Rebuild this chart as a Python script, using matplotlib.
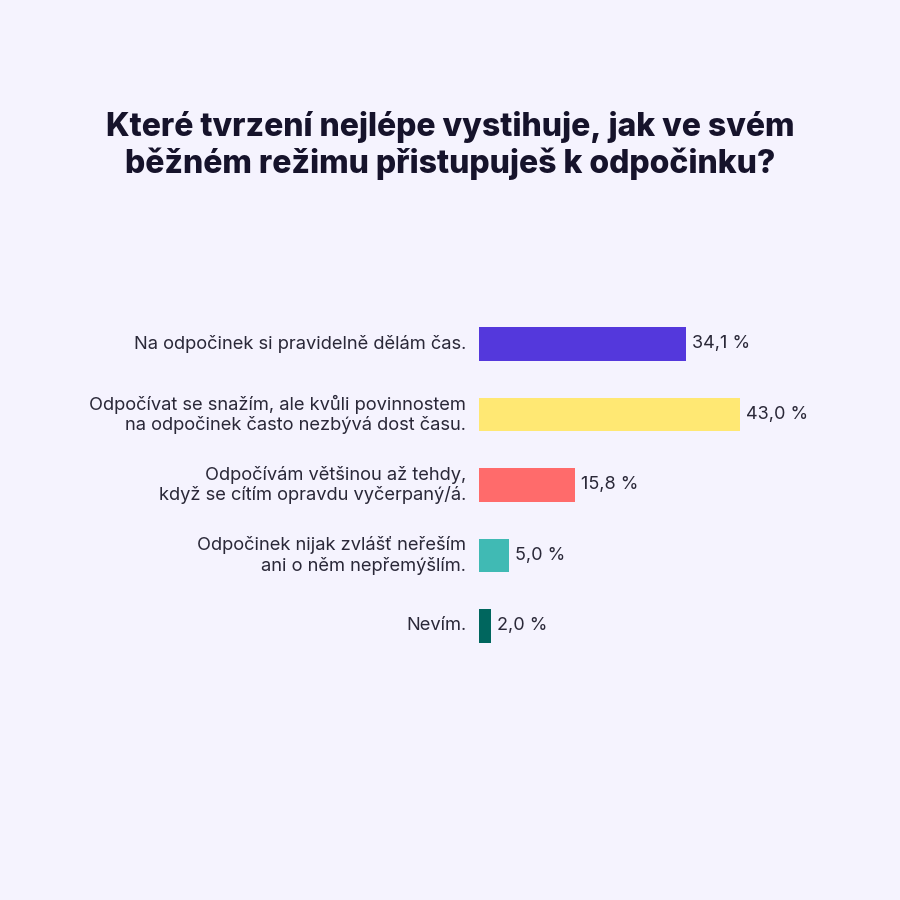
import matplotlib.pyplot as plt

categories = [
    "Na odpočinek si pravidelně dělám čas.",
    "Odpočívat se snažím, ale kvůli povinnostem\nna odpočinek často nezbývá dost času.",
    "Odpočívám většinou až tehdy,\nkdyž se cítím opravdu vyčerpaný/á.",
    "Odpočinek nijak zvlášť neřeším\nani o něm nepřemýšlím.",
    "Nevím.",
]
values = [34.1, 43.0, 15.8, 5.0, 2.0]
value_labels = ["34,1 %", "43,0 %", "15,8 %", "5,0 %", "2,0 %"]
colors = ["#5438DC", "#FFE873", "#FF6B6B", "#40BAB4", "#00665E"]

BG = "#F5F3FE"
TEXT = "#2A2838"
TITLE = "#16132B"

plt.rcParams["font.family"] = ["Inter", "DejaVu Sans"]

fig = plt.figure(figsize=(9, 9), dpi=100, facecolor=BG)
ax = fig.add_axes([0.532, 0.2653, 0.468, 0.3917])
ax.set_facecolor(BG)

pos = list(range(len(values)))
ax.barh(pos, values, height=0.47, color=colors)
ax.set_xlim(0, 421 / 6.07)
ax.set_ylim(len(values) - 0.5, -0.5)

for y, v, lab, cat in zip(pos, values, value_labels, categories):
    ax.annotate(lab, (v, y), xytext=(4.5, 0), textcoords="offset points",
                va="center", ha="left", fontsize=13, color=TEXT)
    ax.annotate(cat, (0, y), xytext=(-9, 0), textcoords="offset points",
                va="center", ha="right", fontsize=13.2, color=TEXT,
                linespacing=1.2, annotation_clip=False)

for s in ax.spines.values():
    s.set_visible(False)
ax.set_xticks([])
ax.set_yticks([])

fig.text(0.5, 0.838, "Které tvrzení nejlépe vystihuje, jak ve svém\nběžném režimu přistupuješ k odpočinku?",
         ha="center", va="center", fontsize=23, fontweight="heavy", color=TITLE,
         linespacing=1.19)

fig.savefig("out.png", dpi=100, facecolor=BG)
